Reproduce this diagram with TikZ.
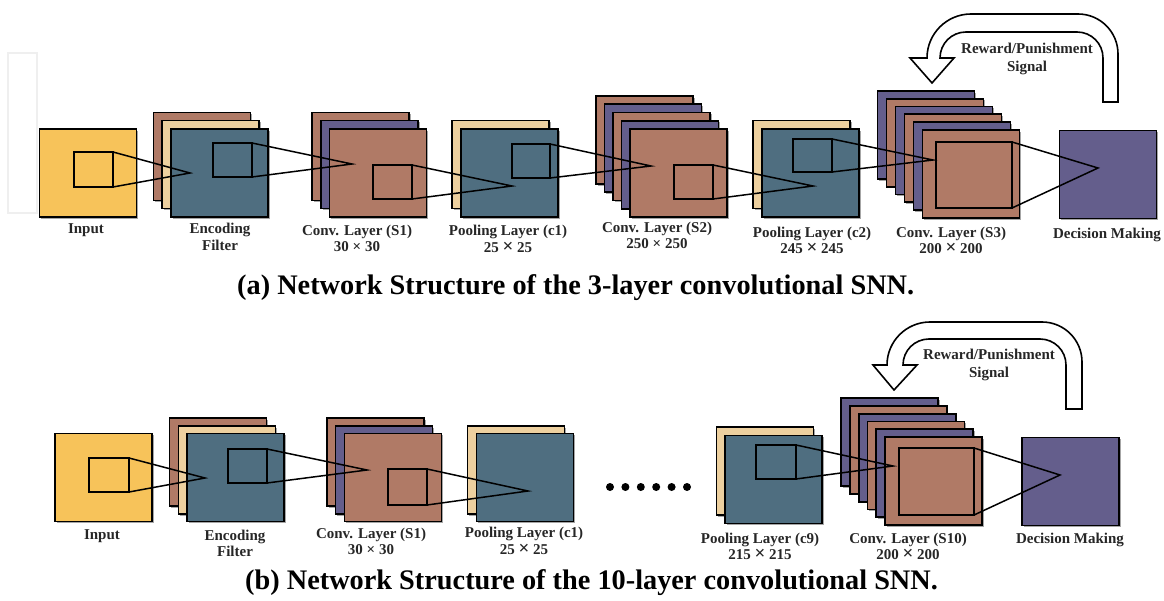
\documentclass[tikz,border=0pt]{standalone}
\usepackage{fontspec}
\setmainfont{Liberation Serif}
\usetikzlibrary{shadows}
\definecolor{ylw}{HTML}{F7C35A}
\definecolor{blu}{HTML}{4F6E80}
\definecolor{brn}{HTML}{B07A66}
\definecolor{bge}{HTML}{EDD09F}
\definecolor{pur}{HTML}{645E8C}
\definecolor{txt}{HTML}{262626}
\definecolor{ghost}{HTML}{EFEFEF}
\newcommand{\bigx}{\smash{\fontsize{19}{16}\selectfont ×}}
\tikzset{
  box/.style={draw=black, line width=1.8pt, inner sep=0pt, outer sep=0pt,
    minimum width=97pt, minimum height=88pt,
    drop shadow={shadow xshift=1.6pt, shadow yshift=-1.6pt, opacity=0.35, fill=black}},
  win/.style={draw=black, line width=2.2pt, inner sep=0pt, outer sep=0pt},
  conn/.style={draw=black, line width=1.5pt, line join=miter},
  lbl/.style={font=\bfseries\fontsize{15}{16.5}\selectfont, align=center, text=txt, inner sep=0pt},
  sig/.style={font=\bfseries\fontsize{15}{18}\selectfont, align=center, text=txt, inner sep=0pt},
  captxt/.style={font=\bfseries\fontsize{28.3}{30}\selectfont, text=black, inner sep=0pt, anchor=base west},
  fb/.style={draw=black, fill=white, line width=1.6pt, line join=miter},
  dotmark/.style={circle, fill=black, inner sep=0pt, minimum size=8pt}
}
\begin{document}
\begin{tikzpicture}[x=1pt,y=-1pt]
\useasboundingbox (0,0) rectangle (1164,601);

% faint frame at the left
\draw[ghost, line width=1.5pt] (8,53) rectangle (37,213);

% ================= (a) top row =================
\node[box,fill=ylw] (inA) at (88,173) {};
\node[box,fill=brn] (encA2) at (202,156.5) {};
\node[box,fill=bge] (encA1) at (210.5,164.5) {};
\node[box,fill=blu] (encA) at (219.5,173) {};
\node[box,fill=brn] (s1A2) at (360.5,156.5) {};
\node[box,fill=pur] (s1A1) at (369.5,164.5) {};
\node[box,fill=brn] (s1A) at (378,173) {};
\node[box,fill=bge] (c1A1) at (500.5,164.5) {};
\node[box,fill=blu] (c1A) at (509.5,173) {};
\foreach \k/\c in {4/brn,3/pur,2/brn,1/pur}
  \node[box,fill=\c] (s2A\k) at ({678.5-8.5*\k},{173-8.25*\k}) {};
\node[box,fill=brn] (s2A) at (678.5,173) {};
\node[box,fill=bge] (c2A1) at (801.5,164.5) {};
\node[box,fill=blu] (c2A) at (810.5,173) {};
\foreach \k/\c in {5/pur,4/brn,3/pur,2/brn,1/pur}
  \node[box,fill=\c] (s3A\k) at ({971-9*\k},{174-7.8*\k}) {};
\node[box,fill=brn] (s3A) at (971,174) {};
\node[box,fill=pur] (dmA) at (1108,174.5) {};

% windows
\node[win,minimum width=39pt,minimum height=35pt] (inAw) at (93.5,169.5) {};
\node[win,minimum width=39pt,minimum height=34pt] (encAw) at (232.5,160) {};
\node[win,minimum width=39pt,minimum height=34pt] (s1Aw) at (392.5,182) {};
\node[win,minimum width=38pt,minimum height=34pt] (c1Aw) at (531,161) {};
\node[win,minimum width=39pt,minimum height=34pt] (s2Aw) at (693.5,182) {};
\node[win,minimum width=39pt,minimum height=33pt] (c2Aw) at (812.5,155.5) {};
\node[win,minimum width=76pt,minimum height=66pt] (s3Aw) at (974,175) {};

% apex points
\coordinate (encAa) at (190,173);
\coordinate (s1Aa) at (352,164);
\coordinate (c1Aa) at (512,186);
\coordinate (s2Aa) at (651,166);
\coordinate (c2Aa) at (813,186);
\coordinate (s3Aa) at (933,160);
\coordinate (dmAa) at (1098,168);

\draw[conn] (inAw.north east) -- (encAa) -- (inAw.south east);
\draw[conn] (encAw.north east) -- (s1Aa) -- (encAw.south east);
\draw[conn] (s1Aw.north east) -- (c1Aa) -- (s1Aw.south east);
\draw[conn] (c1Aw.north east) -- (s2Aa) -- (c1Aw.south east);
\draw[conn] (s2Aw.north east) -- (c2Aa) -- (s2Aw.south east);
\draw[conn] (c2Aw.north east) -- (s3Aa) -- (c2Aw.south east);
\draw[conn] (s3Aw.north east) -- (dmAa) -- (s3Aw.south east);

% feedback arrow (a)
\draw[fb] (1118,102) -- (1118,54) .. controls (1118,31.9) and (1100.1,14) .. (1078,14)
  -- (971,14) .. controls (946.7,14) and (927,33.7) .. (927,58)
  -- (910,58) -- (932,83) -- (954,58) -- (940,58)
  .. controls (940,43.6) and (951.6,32) .. (966,32)
  -- (1077,32) .. controls (1091.4,32) and (1103,43.6) .. (1103,58)
  -- (1103,102) -- cycle;
\node[sig] (sigA) at (1027,59) {Reward/Punishment\\Signal};

% labels (a)
\node[lbl] (lInA) at (86,230) {Input};
\node[lbl] (lEncA) at (220,237) {Encoding\\Filter};
\node[lbl] (lS1A) at (357,238.5) {Conv. Layer (S1)\\30 × 30};
\node[lbl] (lC1A) at (508,239) {Pooling Layer (c1)\\25 \bigx{} 25};
\node[lbl] (lS2A) at (657,235.5) {Conv. Layer (S2)\\250 × 250};
\node[lbl] (lC2A) at (812,240.5) {Pooling Layer (c2)\\245 \bigx{} 245};
\node[lbl] (lS3A) at (951,240.5) {Conv. Layer (S3)\\200 \bigx{} 200};
\node[lbl] (lDmA) at (1107,235) {Decision Making};

\node[captxt] (capA) at (237,295) {(a) Network Structure of the 3-layer convolutional SNN.};

% ================= (b) bottom row =================
\node[box,fill=ylw] (inB) at (103.5,477.5) {};
\node[box,fill=brn] (encB2) at (218,462) {};
\node[box,fill=bge] (encB1) at (227,470) {};
\node[box,fill=blu] (encB) at (235.5,477.5) {};
\node[box,fill=brn] (s1B2) at (375.5,462) {};
\node[box,fill=pur] (s1B1) at (384,470) {};
\node[box,fill=brn] (s1B) at (393,477.5) {};
\node[box,fill=bge] (c1B1) at (516,470) {};
\node[box,fill=blu] (c1B) at (525,477.5) {};
\node[box,fill=bge] (c9B1) at (765,471) {};
\node[box,fill=blu] (c9B) at (773.5,479.5) {};
\foreach \k/\c in {5/pur,4/brn,3/pur,2/brn,1/pur}
  \node[box,fill=\c] (s10B\k) at ({933.5-8.8*\k},{481-7.8*\k}) {};
\node[box,fill=brn] (s10B) at (933.5,481) {};
\node[box,fill=pur] (dmB) at (1070.5,481.5) {};

\foreach \k in {0,...,5}
  \node[dotmark] (dot\k) at ({610+15.4*\k},487) {};

\node[win,minimum width=40pt,minimum height=34pt] (inBw) at (109,475) {};
\node[win,minimum width=39pt,minimum height=34pt] (encBw) at (247.5,466) {};
\node[win,minimum width=39pt,minimum height=36pt] (s1Bw) at (407.5,487) {};
\node[win,minimum width=40pt,minimum height=34pt] (c9Bw) at (776,462) {};
\node[win,minimum width=75pt,minimum height=67pt] (s10Bw) at (936.5,481.5) {};

\coordinate (encBa) at (205,478);
\coordinate (s1Ba) at (367,470);
\coordinate (c1Ba) at (528,491);
\coordinate (s10Ba) at (893,466);
\coordinate (dmBa) at (1060,475);

\draw[conn] (inBw.north east) -- (encBa) -- (inBw.south east);
\draw[conn] (encBw.north east) -- (s1Ba) -- (encBw.south east);
\draw[conn] (s1Bw.north east) -- (c1Ba) -- (s1Bw.south east);
\draw[conn] (c9Bw.north east) -- (s10Ba) -- (c9Bw.south east);
\draw[conn] (s10Bw.north east) -- (dmBa) -- (s10Bw.south east);

% feedback arrow (b)
\draw[fb] (1082,409) -- (1082,362) .. controls (1082,339.9) and (1064.1,322) .. (1042,322)
  -- (930,322) .. controls (906.3,322) and (887,341.3) .. (887,365)
  -- (873,365) -- (894,390) -- (917,365) -- (903,365)
  .. controls (903,350.6) and (914.6,339) .. (929,339)
  -- (1040,339) .. controls (1054.4,339) and (1066,350.6) .. (1066,365)
  -- (1066,409) -- cycle;
\node[sig] (sigB) at (989,364.5) {Reward/Punishment\\Signal};

\node[lbl] (lInB) at (102,536) {Input};
\node[lbl] (lEncB) at (235,543.5) {Encoding\\Filter};
\node[lbl] (lS1B) at (371,541.5) {Conv. Layer (S1)\\30 × 30};
\node[lbl] (lC1B) at (524,541) {Pooling Layer (c1)\\25 \bigx{} 25};
\node[lbl] (lC9B) at (760,546.5) {Pooling Layer (c9)\\215 \bigx{} 215};
\node[lbl] (lS10B) at (908,546.5) {Conv. Layer (S10)\\200 \bigx{} 200};
\node[lbl] (lDmB) at (1070,540) {Decision Making};

\node[captxt] (capB) at (245,589) {(b) Network Structure of the 10-layer convolutional SNN.};
\end{tikzpicture}
\end{document}
